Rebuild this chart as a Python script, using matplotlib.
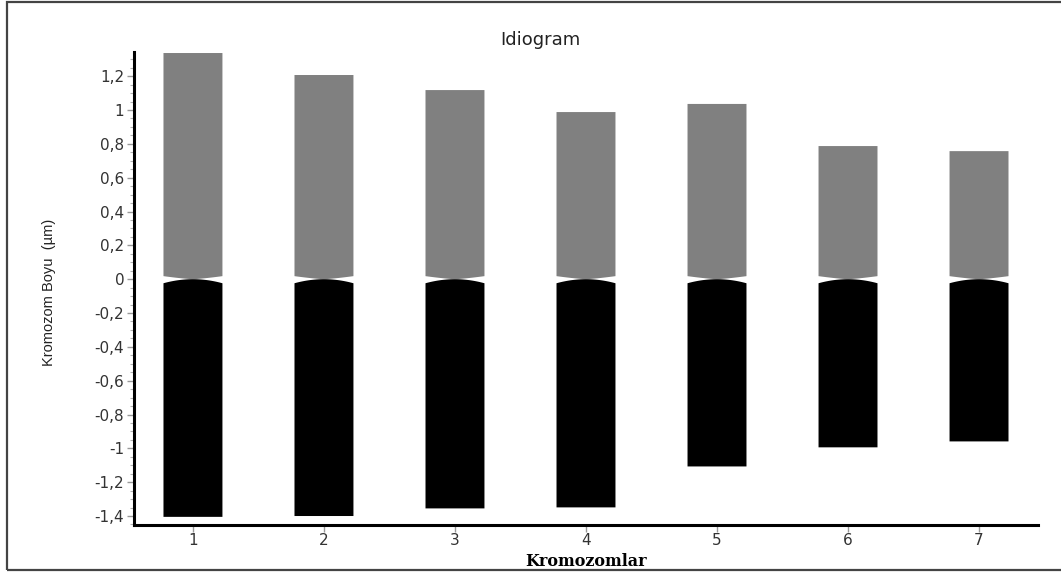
import matplotlib.pyplot as plt
from matplotlib.patches import Polygon, Rectangle
from matplotlib.ticker import FuncFormatter, MultipleLocator
import numpy as np

# chromosome arm lengths (um): upper arm grey, lower arm black
kromozom = [1, 2, 3, 4, 5, 6, 7]
ust_kol = [1.337, 1.207, 1.118, 0.988, 1.036, 0.787, 0.757]
alt_kol = [-1.405, -1.400, -1.355, -1.349, -1.107, -0.994, -0.959]

genislik = 0.45
bosluk_ust = 0.018   # notch at the centromere, upper arm
bosluk_alt = 0.024   # notch at the centromere, lower arm

fig = plt.figure(figsize=(10.61, 5.74), dpi=100)
ax = fig.add_axes([0.1263, 0.0854, 0.852, 0.824])

for x, u, a in zip(kromozom, ust_kol, alt_kol):
    t = np.linspace(-1, 1, 41)
    xs = x + t * genislik / 2
    # upper arm: bottom edge dips to 0 in the middle
    alt_kenar = bosluk_ust * np.abs(t) ** 1.3
    pts = [(x - genislik / 2, u), (x + genislik / 2, u)] + list(zip(xs[::-1], alt_kenar[::-1]))
    ax.add_patch(Polygon(pts, closed=True, facecolor='#808080', edgecolor='none'))
    # lower arm: top edge is an arc reaching 0 in the middle
    ust_kenar = -bosluk_alt * t ** 2
    pts = list(zip(xs, ust_kenar)) + [(x + genislik / 2, a), (x - genislik / 2, a)]
    ax.add_patch(Polygon(pts, closed=True, facecolor='black', edgecolor='none'))

ax.set_xlim(0.55, 7.45)
ax.set_ylim(-1.453, 1.343)


def virgul(v, p):
    v = round(v, 1)
    if v == 0:
        return '0'
    return ('%g' % v).replace('.', ',')


ax.set_xticks(kromozom)
ax.set_yticks(np.arange(-1.4, 1.21, 0.2))
ax.yaxis.set_minor_locator(MultipleLocator(0.05))
ax.yaxis.set_major_formatter(FuncFormatter(virgul))

for s in ['top', 'right']:
    ax.spines[s].set_visible(False)
ax.spines['left'].set_linewidth(2.2)
ax.spines['bottom'].set_linewidth(2.2)

ax.tick_params(axis='both', which='major', length=5, width=1, color='#999999',
               labelsize=11, labelcolor='#333333', pad=2)
ax.tick_params(axis='x', which='major', pad=0.5)
ax.tick_params(axis='y', which='minor', length=3, width=0.8, color='#b0b0b0')
for lab in ax.get_xticklabels() + ax.get_yticklabels():
    lab.set_family(['DejaVu Sans'])

ax.set_xlabel('Kromozomlar', family=['DejaVu Serif'],
              fontweight='bold', fontsize=11.5)
ax.xaxis.set_label_coords(0.5, -0.077)
ax.xaxis.label.set_va('center')
fig.text(0.046, 0.49, 'Kromozom Boyu  (µm)', rotation=90, ha='center', va='center',
         fontsize=10.5, color='#222222',
         family=['Liberation Sans Narrow', 'Liberation Sans', 'DejaVu Sans'])
fig.text(0.509, 0.93, 'Idiogram', ha='center', va='center', fontsize=13,
         color='#222222', family=['DejaVu Sans'])

# outer frame
fig.patches.append(Rectangle((0.0066, 0.007), 1.0, 0.99, transform=fig.transFigure,
                             fill=False, edgecolor='#444444', linewidth=1.6))

fig.savefig('out.png', dpi=100)
